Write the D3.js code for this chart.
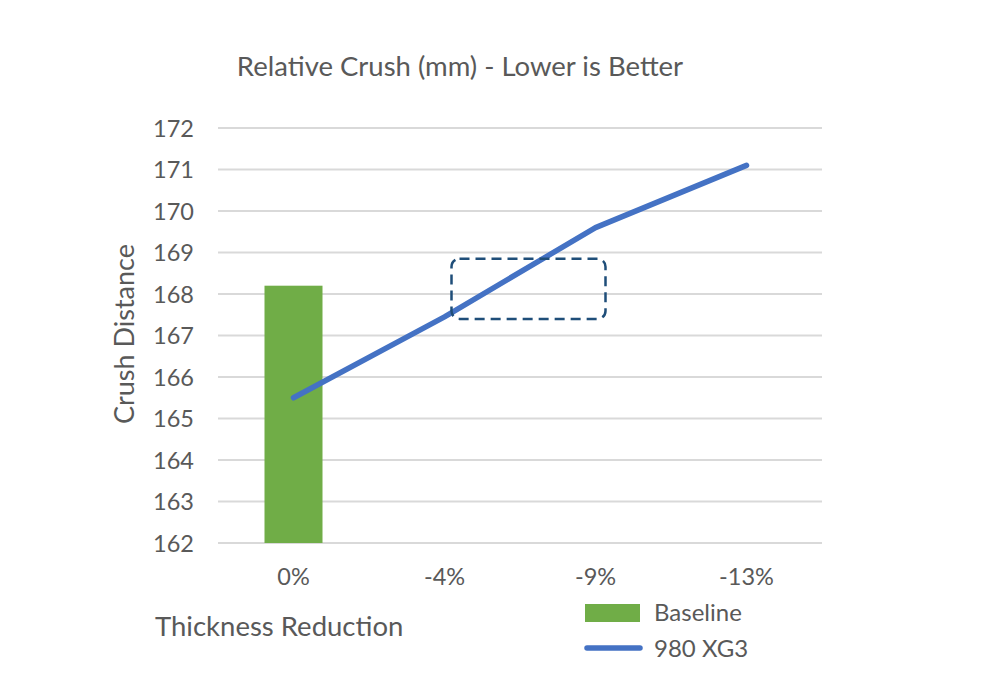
<!DOCTYPE html>
<html><head><meta charset="utf-8">
<script src="https://cdn.jsdelivr.net/npm/d3@7"></script>
<style>body{margin:0;background:#fff;} text{font-family:Lato,"Open Sans",sans-serif;fill:#595959;}</style>
</head><body><svg id="c" width="1000" height="680"></svg>
<script>
const categories = ["0%", "-4%", "-9%", "-13%"];
const baselineValues = [168.2, null, null, null];
const xg3Values = [165.5, 167.45, 169.6, 171.1];
const yTicks = [162,163,164,165,166,167,168,169,170,171,172];
const highlightBox = {fromCat:"-4%", toCat:"-9%", top:168.85, bottom:167.4};

const svg = d3.select("#c");
const x = d3.scaleBand().domain(categories).range([218, 822]);
const y = d3.scaleLinear().domain([162, 172]).range([543, 128]);

// gridlines
svg.append("g").selectAll("line").data(yTicks).join("line")
  .attr("x1", 218).attr("x2", 822)
  .attr("y1", d => y(d)).attr("y2", d => y(d))
  .attr("stroke", "#d9d9d9").attr("stroke-width", 2);

// y axis labels
const yAxis = d3.axisLeft(y).tickValues(yTicks).tickSize(0).tickPadding(0).tickFormat(d3.format("d"));
const yg = svg.append("g").attr("transform", "translate(194,0)").call(yAxis);
yg.select(".domain").remove();
yg.selectAll("text").attr("font-size", 23.5).attr("dy", "0.35em").style("font-family","Lato,'Open Sans',sans-serif").attr("fill","#595959");

// x axis labels
const xAxis = d3.axisBottom(x).tickSize(0).tickPadding(0);
const xg = svg.append("g").attr("transform", "translate(0,568)").call(xAxis);
xg.select(".domain").remove();
xg.selectAll("text").attr("font-size", 23.5).attr("dy", "0.71em").style("font-family","Lato,'Open Sans',sans-serif").attr("fill","#595959");

// bars
const bw = 58;
svg.append("g").selectAll("rect").data(categories.map((c,i)=>({c, v: baselineValues[i]})).filter(d=>d.v!=null))
  .join("rect")
  .attr("x", d => x(d.c) + x.bandwidth()/2 - bw/2)
  .attr("width", bw)
  .attr("y", d => y(d.v))
  .attr("height", d => y(162) - y(d.v))
  .attr("fill", "#70ad47");

// line
const line = d3.line().x(d => x(d.c) + x.bandwidth()/2).y(d => y(d.v));
svg.append("path").datum(categories.map((c,i)=>({c, v: xg3Values[i]})))
  .attr("d", line).attr("fill","none").attr("stroke","#4472c4")
  .attr("stroke-width", 5.5).attr("stroke-linecap","round").attr("stroke-linejoin","round");

// highlight box
const bx0 = x(highlightBox.fromCat) + x.bandwidth()/2 + 7;
const bx1 = x(highlightBox.toCat) + x.bandwidth()/2 + 10;
svg.append("rect")
  .attr("x", bx0).attr("y", y(highlightBox.top))
  .attr("width", bx1 - bx0).attr("height", y(highlightBox.bottom) - y(highlightBox.top))
  .attr("rx", 8).attr("ry", 8)
  .attr("fill","none").attr("stroke","#1f4e79").attr("stroke-width",2.5)
  .attr("stroke-dasharray","10,6");

// title
svg.append("text").attr("x", 460).attr("y", 76).attr("text-anchor","middle")
  .attr("font-size", 27.5).text("Relative Crush (mm) - Lower is Better");

// y axis title
svg.append("text").attr("transform","translate(134,334) rotate(-90)").attr("text-anchor","middle")
  .attr("font-size", 27).text("Crush Distance");

// x axis title
svg.append("text").attr("x", 155).attr("y", 636).attr("font-size", 27.5).text("Thickness Reduction");

// legend
svg.append("rect").attr("x", 585).attr("y", 604).attr("width", 55).attr("height", 18).attr("fill","#70ad47");
svg.append("text").attr("x", 654).attr("y", 621).attr("font-size", 24).text("Baseline");
svg.append("line").attr("x1", 587).attr("x2", 640).attr("y1", 648).attr("y2", 648)
  .attr("stroke","#4472c4").attr("stroke-width",5.5).attr("stroke-linecap","round");
svg.append("text").attr("x", 654).attr("y", 657).attr("font-size", 24).text("980 XG3");
</script></body></html>
